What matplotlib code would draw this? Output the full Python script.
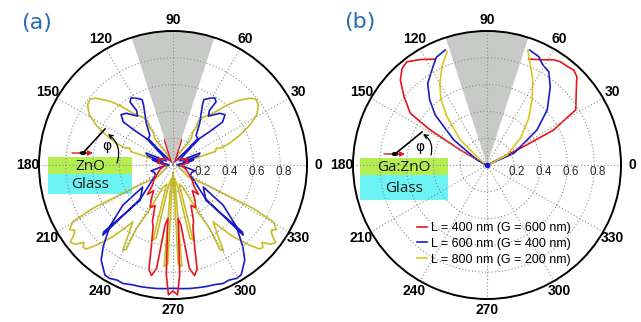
import numpy as np
import matplotlib
matplotlib.use("Agg")
import matplotlib.pyplot as plt
from matplotlib.patches import Rectangle, Wedge, FancyArrowPatch, Circle
from matplotlib.lines import Line2D
from matplotlib.transforms import offset_copy

# ---- data (angles in degrees, normalised intensity) ----
ANGLE_TICKS = [0, 30, 60, 90, 120, 150, 180, 210, 240, 270, 300, 330]
R_TICKS = [0.2, 0.4, 0.6, 0.8]
BLOCKED = (72, 108)  # grey wedge

# panel (a): right half of each (symmetric) pattern, top -> bottom
RED_A_TH = [88, 76, 74, 71, 66, 50, 35, 22, 14, 8, 0, -8, -18, -28, -38, -45,
            -49, -53, -58, -62, -66, -70, -72, -75, -77, -79, -81, -82.5,
            -84.5, -86.5, -88, -90]
RED_A_R = [0.01, 0.03, 0.21, 0.19, 0.04, 0.05, 0.08, 0.12, 0.10, 0.12, 0.06,
           0.07, 0.10, 0.13, 0.18, 0.22, 0.29, 0.24, 0.31, 0.36, 0.33, 0.45,
           0.48, 0.62, 0.80, 0.84, 0.78, 0.45, 0.40, 0.82, 0.97, 0.94]

BLUE_A_TH = [85, 60, 47, 46.8, 52, 57.4, 63.9, 64.7, 61, 58, 55.7, 56.3, 54.1,
             47.9, 44.1, 40.9, 42.3, 45, 40, 30, 24, 20, 18, 15, 12, 8, 0, -8,
             -15, -22, -30, -46, -45, -44, -47, -36, -38.7, -44.2, -49.4, -53,
             -58.2, -60.8, -64, -67, -71, -74.7, -78, -82.3, -86, -90]
BLUE_A_R = [0.02, 0.03, 0.17, 0.27, 0.28, 0.37, 0.50, 0.54, 0.57, 0.59, 0.57,
            0.49, 0.45, 0.52, 0.54, 0.49, 0.37, 0.28, 0.08, 0.06, 0.22, 0.20,
            0.08, 0.16, 0.14, 0.05, 0.03, 0.08, 0.17, 0.15, 0.15, 0.35, 0.74,
            0.72, 0.36, 0.28, 0.48, 0.66, 0.80, 0.89, 0.965, 0.97, 0.955, 0.96,
            0.945, 0.94, 0.935, 0.93, 0.925, 0.92]

YEL_A_TH = [87, 62, 56, 55.5, 59, 58, 60, 58.7, 52.3, 48, 45.3, 41, 38.6, 35.2,
            31, 27.6, 24.2, 20.9, 19.5, 21.5, 17.7, 17.4, 10, 0, -10, -25,
            -37.9, -31, -29, -28.4, -29.5, -32, -33.5, -35, -37, -39, -41,
            -42.5, -44.2, -46.2, -50, -54.8, -57, -59.5, -61, -60, -62, -66,
            -72, -75, -77, -78, -83, -85, -87, -88, -90]
YEL_A_R = [0.02, 0.10, 0.18, 0.24, 0.29, 0.34, 0.37, 0.41, 0.49, 0.60, 0.67,
           0.76, 0.79, 0.78, 0.73, 0.65, 0.55, 0.45, 0.37, 0.35, 0.33, 0.21,
           0.08, 0.03, 0.04, 0.06, 0.14, 0.29, 0.51, 0.68, 0.86, 0.91, 0.88,
           0.90, 0.96, 0.94, 0.88, 0.91, 0.90, 0.83, 0.70, 0.52, 0.60, 0.74,
           0.72, 0.55, 0.40, 0.18, 0.15, 0.58, 0.56, 0.15, 0.10, 0.76, 0.74,
           0.10, 0.05]

# panel (b): left and right branches (grey wedge blocks the top)
RED_B_L_TH = [116.1, 122.2, 127.8, 131.3, 135.6, 140.6, 146, 148.3, 150.7, 160]
RED_B_L_R = [0.88, 0.93, 0.975, 0.96, 0.905, 0.80, 0.69, 0.50, 0.23, 0.01]
RED_B_R_TH = [68.5, 63.2, 57.6, 54.6, 50.3, 47.6, 44.5, 40, 31.9, 27.7, 26.6, 20]
RED_B_R_R = [0.85, 0.88, 0.93, 0.945, 0.95, 0.96, 0.94, 0.87, 0.78, 0.56, 0.28, 0.01]

BLUE_B_L_TH = [110, 115.2, 118.8, 126, 131.4, 136, 143, 153, 170]
BLUE_B_L_R = [0.913, 0.888, 0.837, 0.753, 0.647, 0.537, 0.31, 0.08, 0.01]
BLUE_B_R_TH = [69.6, 64.5, 60.8, 56.5, 51, 42.5, 35, 23.7, 10]
BLUE_B_R_R = [0.915, 0.896, 0.855, 0.835, 0.75, 0.61, 0.455, 0.22, 0.01]

YEL_B_L_TH = [109.4, 114.6, 120, 125.3, 129.6, 136.9, 150]
YEL_B_L_R = [0.897, 0.807, 0.704, 0.594, 0.468, 0.273, 0.03]
YEL_B_R_TH = [70.5, 65.9, 61.6, 55.3, 48.2, 38.7, 26.6, 15]
YEL_B_R_R = [0.91, 0.80, 0.72, 0.59, 0.467, 0.32, 0.167, 0.02]

LEGEND = ["L = 400 nm (G = 600 nm)", "L = 600 nm (G = 400 nm)",
          "L = 800 nm (G = 200 nm)"]

RED, BLUE, YEL_A, YEL_B = "#e8141c", "#1a1ac8", "#c8be28", "#dcc81c"

W, H = 641, 322
fig = plt.figure(figsize=(W / 100, H / 100), dpi=100)


def fx(px):
    return px / W


def fy(py):
    return 1 - py / H


def polar_ax(cx, cy, rad):
    ax = fig.add_axes([fx(cx - rad), fy(cy + rad), 2 * rad / W, 2 * rad / H],
                      projection="polar")
    ax.set_ylim(0, 1)
    ax.set_thetagrids(ANGLE_TICKS, [str(a) for a in ANGLE_TICKS],
                      fontweight="bold", fontsize=10, fontfamily="Liberation Sans")
    ax.set_rgrids(R_TICKS, labels=[""] * len(R_TICKS))
    ax.grid(True, color="#8c8c8c", linestyle=(0, (1, 2)), linewidth=0.8)
    ax.spines["polar"].set_linewidth(1.4)
    ax.spines["polar"].set_color("black")
    ax.tick_params(axis="x", pad=-2.5)
    ax.add_patch(Wedge((0.5, 0.5), 0.5, BLOCKED[0], BLOCKED[1],
                       transform=ax.transAxes, facecolor="#c8cac8",
                       edgecolor="none", zorder=1.2))
    trans = offset_copy(ax.transData, fig=fig, x=3, y=-7, units="dots")
    for r in R_TICKS:
        ax.text(0, r, f"{r:.1f}", transform=trans, ha="center", va="center",
                fontsize=8.5, color="#2a2a2a", fontfamily="Liberation Sans")
    return ax


def mirror(th, r):
    # right half (top -> bottom) + reflected left half, kept angle-continuous
    th_full = list(th) + [-180 - t for t in reversed(th)]
    r_full = list(r) + list(reversed(r))
    return np.deg2rad(th_full), np.array(r_full)


def inset(ax, x0, x1, y0, y1, y2, film, cx_arrow, cy_arrow, tip, arc0, arc1, phi):
    ax.add_artist(Rectangle((fx(x0), fy(y1)), fx(x1) - fx(x0), fy(y0) - fy(y1),
                            transform=fig.transFigure, facecolor="#b4ee50",
                            edgecolor="none", zorder=0.8, clip_on=False))
    ax.add_artist(Rectangle((fx(x0), fy(y2)), fx(x1) - fx(x0), fy(y1) - fy(y2),
                            transform=fig.transFigure, facecolor="#6cf4f4",
                            edgecolor="none", zorder=0.8, clip_on=False))
    xm = (x0 + x1) / 2
    fig.text(fx(xm), fy((y0 + y1) / 2 + 1), film, ha="center", va="center",
             fontsize=11, fontfamily="Open Sans", color="#1a1a1a")
    fig.text(fx(xm), fy((y1 + y2) / 2 + 1), "Glass", ha="center", va="center",
             fontsize=11, fontfamily="Open Sans", color="#1a1a1a")
    fig.add_artist(Line2D([fx(cx_arrow), fx(tip[0])], [fy(cy_arrow), fy(tip[1])],
                          color="black", linewidth=1.2))
    fig.add_artist(FancyArrowPatch((fx(cx_arrow - 11), fy(cy_arrow)),
                                   (fx(cx_arrow + 10), fy(cy_arrow)),
                                   transform=fig.transFigure, color="#e8141c",
                                   arrowstyle="-|>", mutation_scale=7,
                                   linewidth=1.0, shrinkA=0, shrinkB=0))
    fig.add_artist(Circle((fx(cx_arrow), fy(cy_arrow)), 2.6 / W,
                          transform=fig.transFigure, color="black"))
    fig.add_artist(FancyArrowPatch((fx(arc0[0]), fy(arc0[1])),
                                   (fx(arc1[0]), fy(arc1[1])),
                                   transform=fig.transFigure, color="black",
                                   arrowstyle="->", mutation_scale=7, linewidth=0.9,
                                   connectionstyle="arc3,rad=0.35",
                                   shrinkA=0, shrinkB=0))
    fig.text(fx(phi[0]), fy(phi[1]), "φ", ha="center", va="center", fontsize=10)


# ---- panel (a) ----
axa = polar_ax(173, 165, 134)
for th, r, c in [(YEL_A_TH, YEL_A_R, YEL_A), (BLUE_A_TH, BLUE_A_R, BLUE),
                 (RED_A_TH, RED_A_R, RED)]:
    t, rr = mirror(th, r)
    axa.plot(t, rr, color=c, linewidth=1.2, zorder=1)
inset(axa, 48, 132, 157, 174, 194, "ZnO", 83, 153, (105, 129),
      (117, 163), (108, 134), (107, 146))
fig.text(fx(37), fy(23), "(a)", ha="center", va="center", fontsize=16,
         color="#2a6cb0")

# ---- panel (b) ----
axb = polar_ax(487, 165, 134)
handles = []
for (tl, rl, tr, rr, c, lab) in [
        (RED_B_L_TH, RED_B_L_R, RED_B_R_TH, RED_B_R_R, RED, LEGEND[0]),
        (BLUE_B_L_TH, BLUE_B_L_R, BLUE_B_R_TH, BLUE_B_R_R, BLUE, LEGEND[1]),
        (YEL_B_L_TH, YEL_B_L_R, YEL_B_R_TH, YEL_B_R_R, YEL_B, LEGEND[2])]:
    axb.plot(np.deg2rad(tl), rl, color=c, linewidth=1.2, zorder=1)
    h, = axb.plot(np.deg2rad(tr), rr, color=c, linewidth=1.2, zorder=1, label=lab)
    handles.append(h)
axb.plot([0], [0], "o", color=BLUE, markersize=3, zorder=3)
inset(axb, 360, 448, 158, 175, 200, "Ga:ZnO", 395, 154, (422, 132),
      (431, 155), (423, 134), (420, 147))
leg = axb.legend(handles=handles, loc="upper left",
                 bbox_to_anchor=(fx(417), fy(222)), bbox_transform=fig.transFigure,
                 frameon=False, handlelength=0.8, handletextpad=0.3,
                 labelspacing=0.3, borderpad=0, borderaxespad=0,
                 prop={"family": "Liberation Sans", "size": 9})
fig.text(fx(360), fy(22), "(b)", ha="center", va="center", fontsize=16,
         color="#2a6cb0")

fig.savefig("out.png", dpi=100)
